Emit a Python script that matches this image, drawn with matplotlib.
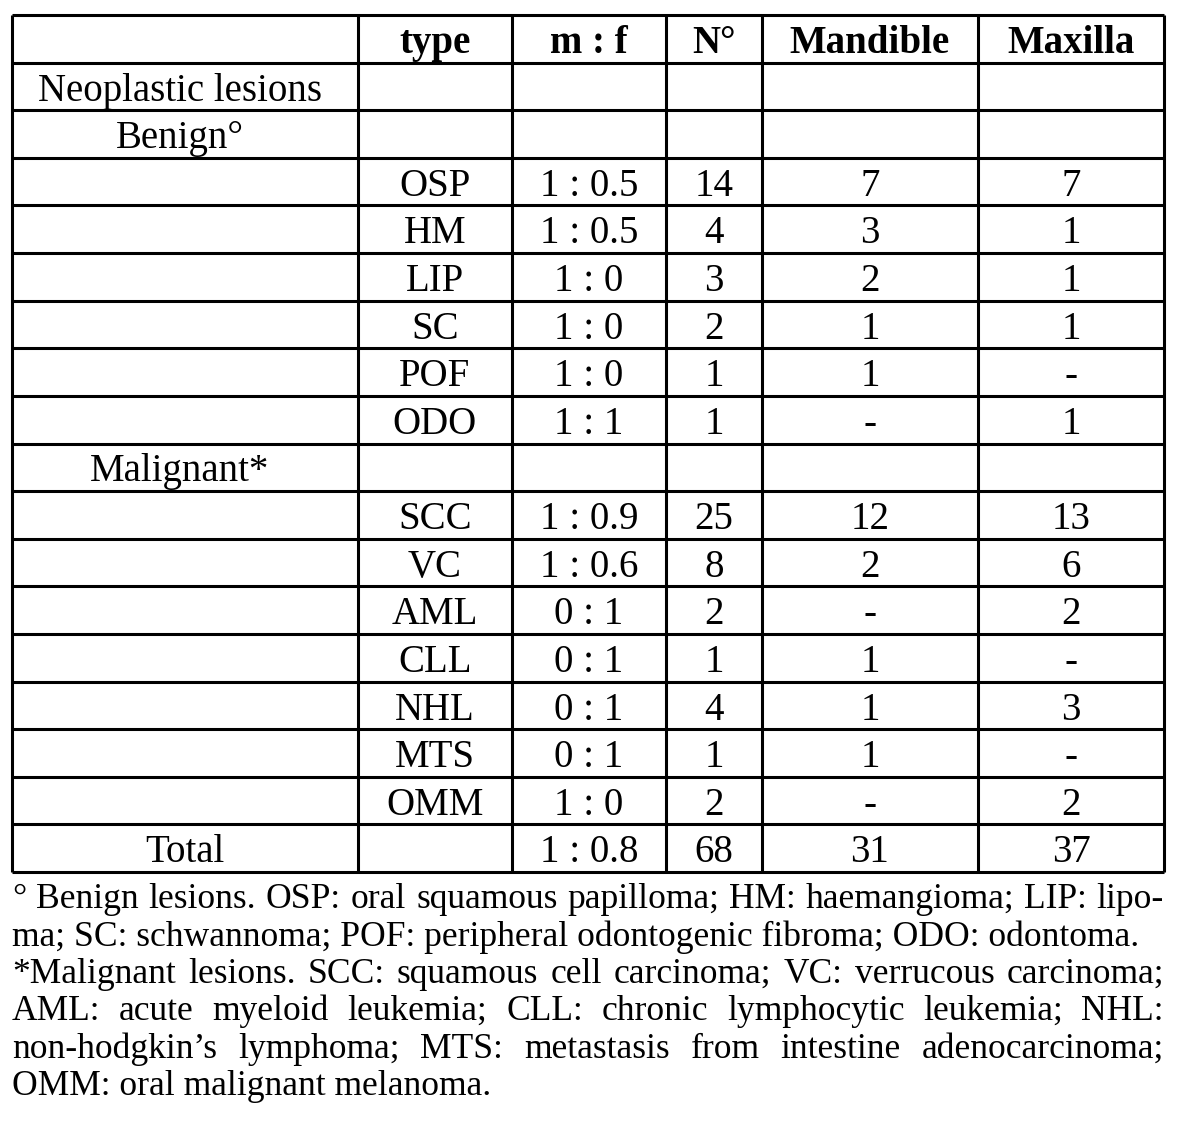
import numpy as np
import matplotlib
matplotlib.use("Agg")
import matplotlib.pyplot as plt

# table data
header = ["", "type", "m : f", "N°", "Mandible", "Maxilla"]
types = ["OSP", "HM", "LIP", "SC", "POF", "ODO",
         "SCC", "VC", "AML", "CLL", "NHL", "MTS", "OMM"]
ratio_mf = ["1 : 0.5", "1 : 0.5", "1 : 0", "1 : 0", "1 : 0", "1 : 1",
            "1 : 0.9", "1 : 0.6", "0 : 1", "0 : 1", "0 : 1", "0 : 1", "1 : 0"]
n_cases = [14, 4, 3, 2, 1, 1, 25, 8, 2, 1, 4, 1, 2]
mandible = ["7", "3", "2", "1", "1", "-", "12", "2", "-", "1", "1", "1", "-"]
maxilla = ["7", "1", "1", "1", "-", "1", "13", "6", "2", "-", "3", "-", "2"]
n_benign = 6
total_row = ["Total", "", "1 : 0.8", "68", "31", "37"]

footnote = [
    ("° Benign lesions. OSP: oral squamous papilloma; HM: haemangioma; LIP: lipo-", True),
    ("ma; SC: schwannoma; POF: peripheral odontogenic fibroma; ODO: odontoma.", False),
    ("*Malignant lesions. SCC: squamous cell carcinoma; VC: verrucous carcinoma;", True),
    ("AML: acute myeloid leukemia; CLL: chronic lymphocytic leukemia; NHL:", True),
    ("non-hodgkin’s lymphoma; MTS: metastasis from intestine adenocarcinoma;", True),
    ("OMM: oral malignant melanoma.", False),
]

# assemble rows
rows = [header, ["Neoplastic lesions", "", "", "", "", ""],
        ["Benign°", "", "", "", "", ""]]
for i, t in enumerate(types):
    if i == n_benign:
        rows.append(["Malignant*", "", "", "", "", ""])
    rows.append(["", t, ratio_mf[i], str(n_cases[i]), mandible[i], maxilla[i]])
rows.append(total_row)

W, H = 1200, 1146
fig = plt.figure(figsize=(W / 100, H / 100), dpi=100)
ax = fig.add_axes([0, 0, 1, 1])
ax.set_xlim(0, W)
ax.set_ylim(H, 0)
ax.axis("off")

col_x = [12, 358, 512, 666, 762, 978, 1164]
row_y = np.linspace(15, 872, len(rows) + 1)
lw = 2.2

ax.hlines(row_y, col_x[0], col_x[-1], color="black", lw=lw)
ax.vlines(col_x, row_y[0], row_y[-1], color="black", lw=lw)

font = "Liberation Serif"
for r, row in enumerate(rows):
    base = row_y[r] + 38
    for c, txt in enumerate(row):
        if not txt:
            continue
        cx = (col_x[c] + col_x[c + 1]) / 2
        if c == 0 and r in (1, 2, 9):
            cx -= 5
        ax.text(cx, base, txt, ha="center", va="baseline", family=font,
                fontsize=28, fontweight="bold" if r == 0 else "normal")

# footnote, justified between the table edges
fig.canvas.draw()
rend = fig.canvas.get_renderer()
fs = 25.6
left, right = col_x[0], col_x[-1]
baselines = [908, 945.5, 983, 1020, 1057.5, 1095]
for (line, justify), yb in zip(footnote, baselines):
    if not justify:
        ax.text(left, yb, line, ha="left", va="baseline", family=font,
                fontsize=fs)
        continue
    words = line.split(" ")
    arts = [ax.text(0, yb, w, ha="left", va="baseline", family=font,
                    fontsize=fs) for w in words]
    widths = [a.get_window_extent(rend).width for a in arts]
    gap = (right - left - sum(widths)) / (len(words) - 1)
    x = left
    for a, w in zip(arts, widths):
        a.set_x(x)
        x += w + gap

fig.savefig("out.png", dpi=100)
